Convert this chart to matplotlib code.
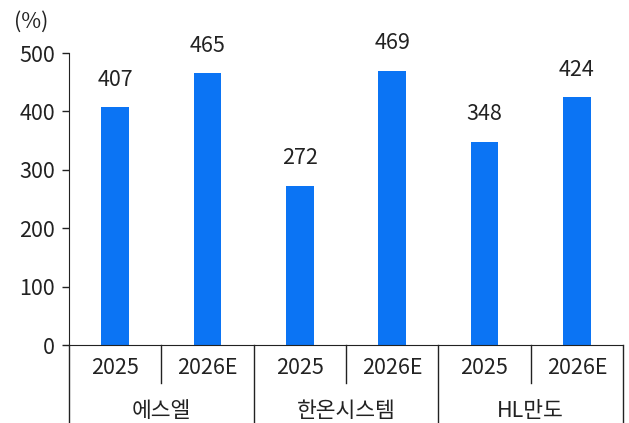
import matplotlib
matplotlib.use("Agg")
import matplotlib.pyplot as plt
from matplotlib.transforms import blended_transform_factory

plt.rcParams['font.family'] = ['Noto Sans CJK KR', 'DejaVu Sans']
plt.rcParams['font.weight'] = 'light'

companies = ["에스엘", "한온시스템", "HL만도"]
years = ["2025", "2026E"]
values = [407, 465, 272, 469, 348, 424]

fs = 15.5
txt = '#222222'

fig = plt.figure(figsize=(6.29, 4.23), dpi=100)
ax = fig.add_axes([69 / 629, 78 / 423, 554 / 629, 292 / 423])

x = [i + 0.5 for i in range(len(values))]
ax.bar(x, values, width=0.3, color='#0B74F4')
for xi, v in zip(x, values):
    ax.annotate(str(v), (xi, v), xytext=(0, 12), textcoords='offset points',
                ha='center', va='bottom', fontsize=fs, color=txt)

ax.set_xlim(0, 6)
ax.set_ylim(0, 500)
ax.set_yticks(range(0, 501, 100))
ax.tick_params(axis='y', labelsize=fs, length=5, width=1, colors=txt, pad=5)
ax.set_xticks([])
for s in ['top', 'right']:
    ax.spines[s].set_visible(False)
ax.spines['left'].set_color(txt)
ax.spines['bottom'].set_color(txt)

tr = blended_transform_factory(ax.transData, ax.transAxes)
for i in range(len(values)):
    ax.text(i + 0.5, -0.078, years[i % 2], transform=tr, ha='center', va='center',
            fontsize=fs, color=txt)
for g, name in enumerate(companies):
    ax.text(2 * g + 1, -0.225, name, transform=tr, ha='center', va='center',
            fontsize=fs, color=txt)

for b in range(7):
    low = -0.27 if b % 2 == 0 else -0.13
    ax.plot([b, b], [0, low], transform=tr, color=txt, lw=1, clip_on=False)

fig.text(14 / 629, 1 - 22 / 423, "(%)", ha='left', va='center', fontsize=fs, color=txt)

fig.savefig("out.png", dpi=100)
